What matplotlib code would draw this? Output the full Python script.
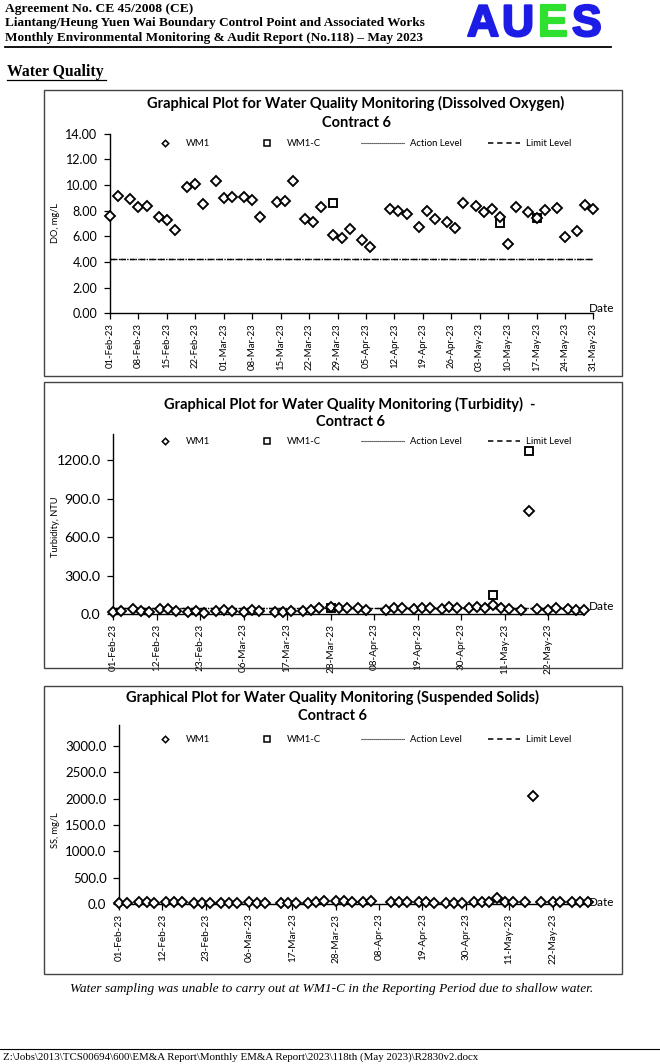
import matplotlib
matplotlib.use('Agg')
import matplotlib.pyplot as plt
import matplotlib.dates as mdates
import matplotlib.patheffects as pe
from matplotlib.lines import Line2D
from matplotlib.patches import Rectangle
import numpy as np
import datetime as dt

W, H = 660, 1064

# ---------------- data ----------------
sample_dates = [
    "2023-02-01", "2023-02-03", "2023-02-06", "2023-02-08", "2023-02-10", "2023-02-13",
    "2023-02-15", "2023-02-17", "2023-02-20", "2023-02-22", "2023-02-24", "2023-02-27",
    "2023-03-01", "2023-03-03", "2023-03-06", "2023-03-08", "2023-03-10", "2023-03-14",
    "2023-03-16", "2023-03-18", "2023-03-21", "2023-03-23", "2023-03-25", "2023-03-28",
    "2023-03-30", "2023-04-01", "2023-04-04", "2023-04-06", "2023-04-11", "2023-04-13",
    "2023-04-15", "2023-04-18", "2023-04-20", "2023-04-22", "2023-04-25", "2023-04-27",
    "2023-04-29", "2023-05-02", "2023-05-04", "2023-05-06", "2023-05-08", "2023-05-10",
    "2023-05-12", "2023-05-15", "2023-05-17", "2023-05-19", "2023-05-22", "2023-05-24",
    "2023-05-27", "2023-05-29", "2023-05-31",
]
do_wm1 = [
    7.58, 9.14, 8.88, 8.26, 8.39, 7.53, 7.25, 6.49, 9.82, 10.08, 8.55, 10.34,
    8.96, 9.06, 9.09, 8.83, 7.53, 8.65, 8.75, 10.34, 7.35, 7.09, 8.31, 6.10,
    5.88, 6.55, 5.71, 5.19, 8.10, 8.00, 7.74, 6.75, 7.97, 7.32, 7.09, 6.68,
    8.57, 8.39, 7.92, 8.10, 7.53, 5.40, 8.26, 7.87, 7.40, 8.05, 8.23, 5.97,
    6.42, 8.44, 8.10,
]
turb_wm1 = [
    14, 22, 38, 25, 12, 36, 40, 27, 18, 22, 9, 20,
    28, 22, 16, 30, 24, 12, 15, 22, 25, 30, 46, 52, 50,
    45, 48, 32, 30, 44, 50, 40, 48, 46, 42, 52, 44,
    50, 55, 48, 74, 50, 38, 32, 803, 40, 30, 50, 36, 30, 34,
]
ss_wm1 = [
    20, 25, 45, 40, 15, 38, 42, 40, 18, 25, 12, 15,
    20, 25, 30, 18, 22, 10, 15, 12, 20, 35, 50, 55, 48,
    45, 35, 50, 30, 35, 42, 38, 30, 25, 20, 28, 22,
    30, 35, 40, 115, 45, 40, 35, 2050, 30, 35, 30, 32, 30, 35,
]
wm1c_dates = ["2023-03-28", "2023-05-08", "2023-05-17"]
do_wm1c = [8.62, 7.01, 7.40]
turb_wm1c = [48, 150, 1270]
ss_wm1c = [np.nan, np.nan, np.nan]

do_action, do_limit = 4.2, 4.2
turb_action, turb_limit = 45, 47
ss_action, ss_limit = np.nan, np.nan

period = ["2023-02-01", "2023-05-31"]

titles = [
    "Graphical Plot for Water Quality Monitoring (Dissolved Oxygen)",
    "Graphical Plot for Water Quality Monitoring (Turbidity)  -",
    "Graphical Plot for Water Quality Monitoring (Suspended Solids)",
]
ylabels = ["DO, mg/L", "Turbidity, NTU", "SS, mg/L"]

# ---------------- helpers ----------------
CH = 'Lato'
SERIF = 'Liberation Serif'


def d(s):
    return dt.datetime.strptime(s, "%Y-%m-%d")


def fx(x):
    return x / W


def fy(y):
    return 1 - y / H


def add_ax(l, t, r, b):
    return fig.add_axes([l / W, 1 - b / H, (r - l) / W, (b - t) / H])


fig = plt.figure(figsize=(W / 100, H / 100), dpi=100)

# ---------------- header ----------------
fig.text(fx(5), fy(9), "Agreement No. CE 45/2008 (CE)", family=SERIF, weight='bold',
         fontsize=9.7, va='center', ha='left')
fig.text(fx(5), fy(23), "Liantang/Heung Yuen Wai Boundary Control Point and Associated Works",
         family=SERIF, weight='bold', fontsize=9.5, va='center', ha='left')
fig.text(fx(5), fy(38), "Monthly Environmental Monitoring & Audit Report (No.118) \u2013 May 2023",
         family=SERIF, weight='bold', fontsize=9.5, va='center', ha='left')
fig.add_artist(Line2D([fx(5), fx(611)], [fy(46.5), fy(46.5)], color='k', lw=1.3))

for ch, x, col in [("A", 467, '#1c1ce6'), ("U", 502, '#1c1ce6'), ("E", 538, '#2fe02f'), ("S", 572, '#1c1ce6')]:
    fig.text(fx(x), fy(36), ch, family='Liberation Sans', weight='bold', fontsize=32,
             color=col, ha='left', va='baseline',
             path_effects=[pe.withStroke(linewidth=1.6, foreground=col)])

fig.text(fx(7), fy(72), "Water Quality", family=SERIF, weight='bold', fontsize=11.3,
         va='center', ha='left')
fig.add_artist(Line2D([fx(7), fx(106)], [fy(79.5), fy(79.5)], color='k', lw=0.9))

# ---------------- charts ----------------
charts = [
    dict(box=(44, 90, 622, 376), ax=(110, 133.7, 593.5, 313.3), ylim=(0, 14), yt=np.arange(0, 14.01, 2),
         yfmt='%.2f', step=7, wm1=do_wm1, wm1c=do_wm1c, act=do_action, lim=do_limit,
         title_x=356, title_y=(103, 123), leg_y=143, ylab_y=223, date_y=309, ms=5.0,
         yfs=9.0, xfs=6.9),
    dict(box=(44, 382, 622, 668), ax=(113, 434.4, 584, 614), ylim=(0, 1400), yt=np.arange(0, 1201, 300),
         yfmt='%.1f', step=11, wm1=turb_wm1, wm1c=turb_wm1c, act=turb_action, lim=turb_limit,
         title_x=350, title_y=(404, 422), leg_y=441, ylab_y=527, date_y=606, ms=5.0,
         yfs=10.2, xfs=7.2),
    dict(box=(44, 686, 622, 974), ax=(119, 725, 588, 904), ylim=(0, 3400), yt=np.arange(0, 3001, 500),
         yfmt='%.1f', step=11, wm1=ss_wm1, wm1c=ss_wm1c, act=ss_action, lim=ss_limit,
         title_x=333, title_y=(697, 716), leg_y=739, ylab_y=830, date_y=902, ms=5.0,
         yfs=9.5, xfs=7.2),
]

xs = [d(s) for s in sample_dates]
xc = [d(s) for s in wm1c_dates]
p0, p1 = d(period[0]), d(period[1])

for i, c in enumerate(charts):
    bl, bt, br, bb = c['box']
    fig.add_artist(Rectangle((fx(bl), fy(bb)), (br - bl) / W, (bb - bt) / H,
                             transform=fig.transFigure, fill=False, ec='#444444', lw=1.0))
    ax = add_ax(*c['ax'])
    ax.set_xlim(p0, p1)
    ax.set_ylim(*c['ylim'])
    for s in ['top', 'right']:
        ax.spines[s].set_visible(False)
    for s in ['left', 'bottom']:
        ax.spines[s].set_linewidth(1.0)
        ax.spines[s].set_color('black')
    ax.patch.set_alpha(0)

    # levels
    ax.plot([p0, p1], [c['act'], c['act']], color='black', lw=1.0, ls=(0, (1, 1)), zorder=2)
    ax.plot([p0, p1], [c['lim'], c['lim']], color='black', lw=1.0, ls=(0, (4, 3)), zorder=2)

    ax.plot(xs, c['wm1'], ls='none', marker='D', ms=c['ms'], mfc='white', mec='black',
            mew=1.35, clip_on=False, zorder=4)
    ax.plot(xc, c['wm1c'], ls='none', marker='s', ms=c['ms'] + 0.5, mfc='white', mec='black',
            mew=1.35, clip_on=False, zorder=3)

    ax.set_yticks(c['yt'])
    ax.set_yticklabels([c['yfmt'] % v for v in c['yt']], family=CH, fontsize=c['yfs'])
    ticks = []
    t = p0
    while t <= p1:
        ticks.append(t)
        t += dt.timedelta(days=c['step'])
    ax.set_xticks(ticks)
    ax.xaxis.set_major_formatter(mdates.DateFormatter('%d-%b-%y'))
    for lab in ax.get_xticklabels():
        lab.set_rotation(90)
        lab.set_family(CH)
        lab.set_fontsize(c['xfs'])
    ax.tick_params(axis='both', direction='out', length=4, width=0.9, colors='black')
    ax.tick_params(axis='x', pad=3)
    ax.tick_params(axis='y', pad=5)

    # titles
    fig.text(fx(c['title_x']), fy(c['title_y'][0]), titles[i], family=CH, weight='bold',
             fontsize=10.5, ha='center', va='center')
    fig.text(fx(c['title_x']), fy(c['title_y'][1]), "Contract 6", family=CH, weight='bold',
             fontsize=10.5, ha='center', va='center')

    # y label and Date label
    fig.text(fx(56), fy(c['ylab_y']), ylabels[i], family=CH, fontsize=6.7, rotation=90,
             ha='center', va='center')
    fig.text(fx(589), fy(c['date_y']), "Date", family=CH, fontsize=8.5, ha='left', va='center')

    # legend (manual, one row)
    ly = fy(c['leg_y'])
    fig.add_artist(Line2D([fx(165)], [ly], marker='D', ms=3.3, mfc='white', mec='black', mew=1.1,
                          ls='none'))
    fig.text(fx(186), ly, "WM1", family=CH, fontsize=6.8, va='center', ha='left')
    fig.add_artist(Line2D([fx(267)], [ly], marker='s', ms=4.3, mfc='white', mec='black', mew=1.1,
                          ls='none'))
    fig.text(fx(287), ly, "WM1-C", family=CH, fontsize=6.8, va='center', ha='left')
    fig.add_artist(Line2D([fx(361), fx(405)], [ly, ly], color='black', lw=0.8, ls=(0, (1, 0.8))))
    fig.text(fx(410), ly, "Action Level", family=CH, fontsize=6.8, va='center', ha='left')
    fig.add_artist(Line2D([fx(488), fx(520)], [ly, ly], color='black', lw=1.1, ls=(0, (3.5, 2.5))))
    fig.text(fx(526), ly, "Limit Level", family=CH, fontsize=6.8, va='center', ha='left')

# ---------------- footer ----------------
fig.text(fx(332), fy(989), "Water sampling was unable to carry out at WM1-C in the Reporting Period due to shallow water.",
         family=SERIF, style='italic', fontsize=9.6, ha='center', va='center')
fig.add_artist(Line2D([fx(0), fx(660)], [fy(1049), fy(1049)], color='k', lw=0.8))
fig.text(fx(3), fy(1057), r"Z:\Jobs\2013\TCS00694\600\EM&A Report\Monthly EM&A Report\2023\118th (May 2023)\R2830v2.docx",
         family=SERIF, fontsize=7.8, ha='left', va='center')

fig.savefig('out.png', dpi=100)
